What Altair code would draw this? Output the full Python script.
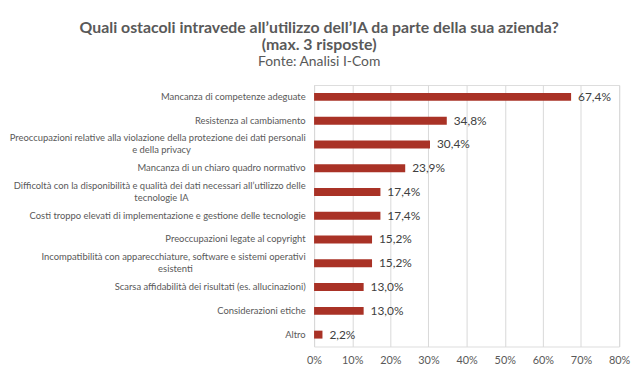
import altair as alt
import pandas as pd

categories = [
    "Mancanza di competenze adeguate",
    "Resistenza al cambiamento",
    "Preoccupazioni relative alla violazione della protezione dei dati personali\ne della privacy",
    "Mancanza di un chiaro quadro normativo",
    "Difficoltà con la disponibilità e qualità dei dati necessari all’utilizzo delle\ntecnologie IA",
    "Costi troppo elevati di implementazione e gestione delle tecnologie",
    "Preoccupazioni legate al copyright",
    "Incompatibilità con apparecchiature, software e sistemi operativi\nesistenti",
    "Scarsa affidabilità dei risultati (es. allucinazioni)",
    "Considerazioni etiche",
    "Altro",
]
values = [67.4, 34.8, 30.4, 23.9, 17.4, 17.4, 15.2, 15.2, 13.0, 13.0, 2.2]
value_labels = [f"{v:.1f}%".replace(".", ",") for v in values]

line1 = [c.split("\n")[0] for c in categories]
line2 = [c.split("\n")[1] if "\n" in c else "" for c in categories]

df = pd.DataFrame(
    {"cat": categories, "val": [v / 100 for v in values], "lab": value_labels, "l1": line1, "l2": line2}
)

FONT = "Lato"
GRAY = "#595959"
LBL_SIZE = 9.5


def js_str(s):
    return "'" + s.replace("\\", "\\\\").replace("'", "\\'").replace("\n", "\\n") + "'"


multi_test = "indexof(datum.value, '\\n') >= 0"

y_axis = alt.Axis(
    labelExpr="split(datum.label, '\\n')[0]",
    labelFont=FONT,
    labelFontSize=LBL_SIZE,
    labelColor=GRAY,
    labelPadding=9,
    labelAlign="right",
    labelOffset={"condition": {"test": multi_test, "value": -6}, "value": 0},
    labelLimit=400,
    ticks=False,
    domain=True,
    domainColor="#d9d9d9",
    minExtent=301,
    maxExtent=301,
)

y_scale = alt.Scale(paddingInner=0, paddingOuter=0)

x_enc = alt.X(
    "val:Q",
    title=None,
    scale=alt.Scale(domain=[0, 0.8], nice=False),
    axis=alt.Axis(
        format=".0%",
        values=[0, 0.1, 0.2, 0.3, 0.4, 0.5, 0.6, 0.7, 0.8],
        labelFont=FONT,
        labelFontSize=11,
        labelColor=GRAY,
        labelPadding=8,
        labelFlush=False,
        ticks=False,
        domain=False,
        grid=True,
        gridColor="#d9d9d9",
    ),
)

y_enc = alt.Y("cat:N", sort=categories, title=None, scale=y_scale, axis=y_axis)
base = alt.Chart(df).encode(y=y_enc, x=x_enc)

bars = base.mark_bar(size=8, color="#A93226")
texts = base.mark_text(align="left", baseline="middle", dx=7, font=FONT, fontSize=12, color="#404040").encode(
    text="lab:N"
)

# second line of the two-line category labels, centred under the first line
centre_offset = {categories[2]: -154, categories[4]: -154, categories[7]: -140}
second_lines = [
    alt.Chart(df)
    .transform_filter(f"datum.cat == {js_str(k)}")
    .mark_text(align="center", baseline="middle", dy=6, font=FONT, fontSize=LBL_SIZE, color=GRAY)
    .encode(y=y_enc, x=alt.value(v), text="l2:N")
    for k, v in centre_offset.items()
]

chart = (
    alt.layer(bars, texts, *second_lines)
    .properties(
        width=308,
        height=264,
        padding={"top": 10, "left": 0, "right": 5, "bottom": 5},
        title=alt.TitleParams(
            text=["Quali ostacoli intravede all’utilizzo dell’IA da parte della sua azienda?", "(max. 3 risposte)"],
            subtitle="Fonte: Analisi I-Com",
            font=FONT,
            fontSize=16,
            fontWeight="bold",
            color=GRAY,
            subtitleFont=FONT,
            subtitleFontSize=14,
            subtitleColor=GRAY,
            lineHeight=18,
            subtitlePadding=2,
            anchor="middle",
            frame="bounds",
            offset=16,
        ),
    )
    .configure_view(stroke=None)
    .configure(background="white")
)

chart.save("out.html", embed_options={"renderer": "svg", "actions": False})
